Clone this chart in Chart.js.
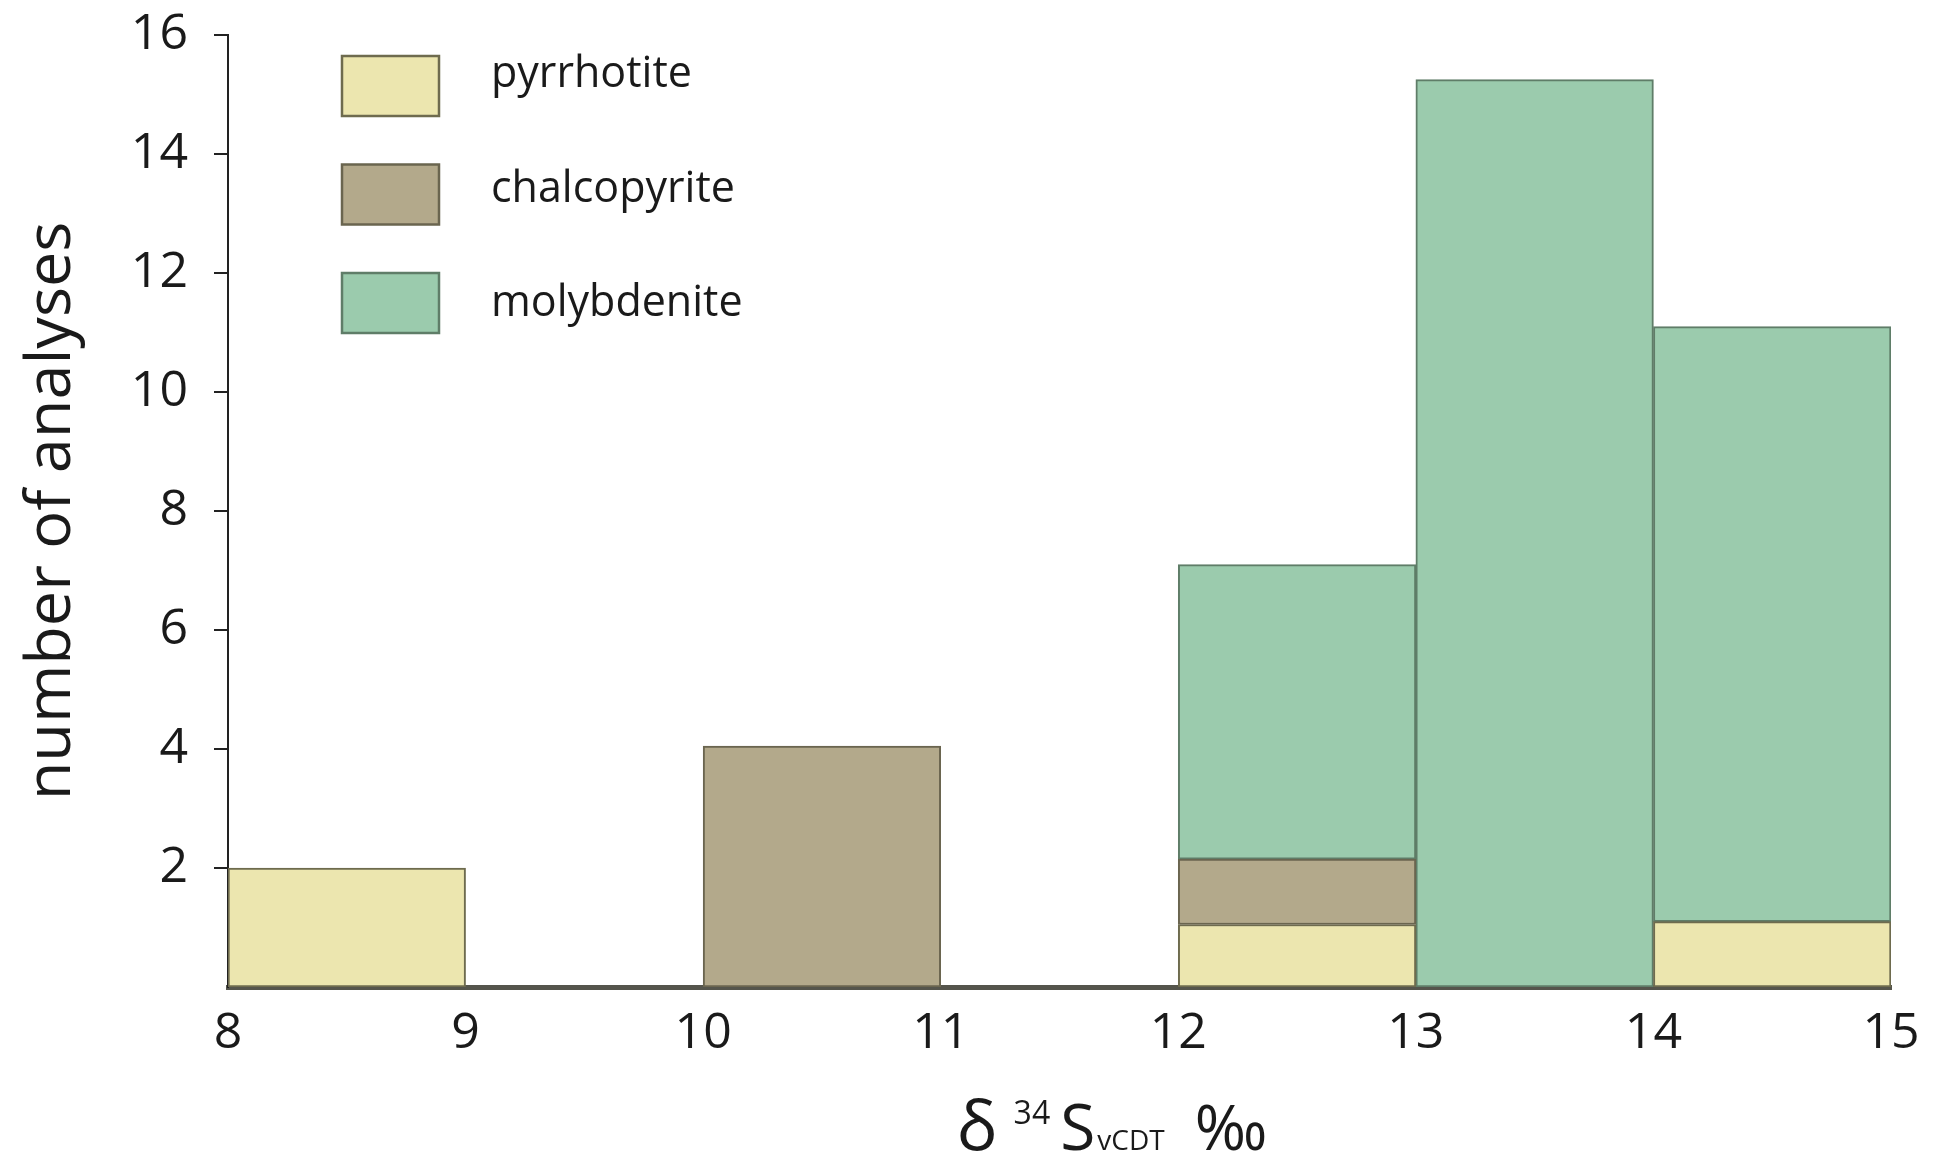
<!DOCTYPE html>
<html>
<head>
<meta charset="utf-8">
<script src="https://cdn.jsdelivr.net/npm/chart.js@4/dist/chart.umd.min.js"></script>
<style>
  html, body { margin: 0; padding: 0; background: #fff; }
  #wrap { width: 1944px; height: 1167px; }
</style>
</head>
<body>
<div id="wrap"><canvas id="isoChart"></canvas></div>
<script>
// bins of delta 34S (lower edge of each 1 permil bin)
const binStarts = [8, 9, 10, 11, 12, 13, 14];
const pyrrhotite = [2, 0, 0, 0, 1.05, 0, 1.1];
const chalcopyrite = [0, 0, 4.05, 0, 1.1, 0, 0];
const molybdenite = [0, 0, 0, 0, 4.95, 15.25, 10];
const xTicks = [8, 9, 10, 11, 12, 13, 14, 15];
const yTicks = [2, 4, 6, 8, 10, 12, 14, 16];

const FONT = "'Open Sans', 'DejaVu Sans', sans-serif";

// turn a series into {x, y} points at bin centres, leaving out empty bins
function toPoints(values) {
    return values
        .map((v, i) => ({ x: binStarts[i] + 0.5, y: v }))
        .filter(p => p.y > 0);
}

// legend drawn inside the plot, top-left, like the original figure
const boxLegend = {
    id: 'boxLegend',
    afterDraw(chart) {
        const { ctx, chartArea } = chart;
        const x0 = chartArea.left + 114;
        const y0 = chartArea.top + 21;
        ctx.save();
        chart.data.datasets.forEach((ds, i) => {
            const y = y0 + i * 108.5;
            ctx.fillStyle = ds.backgroundColor;
            ctx.fillRect(x0, y, 97, 60);
            ctx.strokeStyle = ds.borderColor;
            ctx.lineWidth = 2.5;
            ctx.strokeRect(x0, y, 97, 60);
            ctx.fillStyle = '#1a1a1a';
            ctx.font = '43px ' + FONT;
            ctx.textBaseline = 'middle';
            ctx.textAlign = 'left';
            ctx.fillText(ds.label, x0 + 149, y + 19 + i * 6);
        });
        ctx.restore();
    }
};

// x axis title with superscript / subscript parts
const isoTitle = {
    id: 'isoTitle',
    afterDraw(chart) {
        const { ctx } = chart;
        const parts = [
            { t: 'δ', size: 68, dy: 0, gap: 16 },
            { t: '34', size: 32, dy: -26, gap: 10 },
            { t: 'S', size: 64, dy: 0, gap: 2 },
            { t: 'vCDT', size: 28, dy: 0, gap: 30 },
            { t: '‰', size: 62, dy: 0, gap: 0 }
        ];
        ctx.save();
        ctx.fillStyle = '#1a1a1a';
        ctx.textBaseline = 'alphabetic';
        ctx.textAlign = 'left';
        let total = 0;
        parts.forEach(p => {
            ctx.font = p.size + 'px ' + FONT;
            p.w = ctx.measureText(p.t).width;
            total += p.w + p.gap;
        });
        let x = 1112 - total / 2;
        const base = 1150;
        parts.forEach(p => {
            ctx.font = p.size + 'px ' + FONT;
            ctx.fillText(p.t, x, base + p.dy);
            x += p.w + p.gap;
        });
        ctx.restore();
    }
};

function renderChart() {
    const ctx = document.getElementById('isoChart').getContext('2d');
    new Chart(ctx, {
        type: 'bar',
        data: {
            datasets: [
                {
                    label: 'pyrrhotite',
                    data: toPoints(pyrrhotite),
                    backgroundColor: '#ECE6AF',
                    borderColor: '#6E6B4E'
                },
                {
                    label: 'chalcopyrite',
                    data: toPoints(chalcopyrite),
                    backgroundColor: '#B3A98B',
                    borderColor: '#6A654F'
                },
                {
                    label: 'molybdenite',
                    data: toPoints(molybdenite),
                    backgroundColor: '#9BCBAD',
                    borderColor: '#5F7D68'
                }
            ]
        },
        options: {
            responsive: true,
            maintainAspectRatio: false,
            animation: false,
            layout: { padding: { left: 0, right: 53, top: 35, bottom: 0 } },
            datasets: {
                bar: {
                    barPercentage: 1,
                    categoryPercentage: 1,
                    borderWidth: 2,
                    borderSkipped: false
                }
            },
            plugins: {
                legend: { display: false },
                tooltip: { enabled: false }
            },
            scales: {
                x: {
                    type: 'linear',
                    stacked: true,
                    min: 8,
                    max: 15,
                    offset: false,
                    afterFit: s => {
                        s.height = 180;
                        s.paddingLeft = 0;
                        s.paddingRight = 0;
                    },
                    afterBuildTicks: s => { s.ticks = xTicks.map(v => ({ value: v })); },
                    grid: { display: false },
                    border: { display: true, color: '#55554c', width: 5 },
                    ticks: {
                        padding: 9,
                        color: '#1a1a1a',
                        font: { family: FONT, size: 50 }
                    }
                },
                y: {
                    stacked: true,
                    min: 0,
                    max: 16,
                    afterFit: s => {
                        s.width = 228;
                        s.paddingTop = 0;
                        s.paddingBottom = 0;
                    },
                    afterBuildTicks: s => { s.ticks = yTicks.map(v => ({ value: v })); },
                    grid: {
                        drawOnChartArea: false,
                        drawTicks: true,
                        tickLength: 14,
                        color: '#222',
                        lineWidth: 2
                    },
                    border: { display: true, color: '#222', width: 2 },
                    ticks: {
                        padding: 26,
                        color: '#1a1a1a',
                        font: { family: FONT, size: 50 }
                    },
                    title: {
                        display: true,
                        text: 'number of analyses',
                        color: '#1a1a1a',
                        font: { family: FONT, size: 63 },
                        padding: { top: 14, bottom: 0 }
                    }
                }
            }
        },
        plugins: [boxLegend, isoTitle]
    });
}

document.addEventListener('DOMContentLoaded', renderChart);
</script>
</body>
</html>
